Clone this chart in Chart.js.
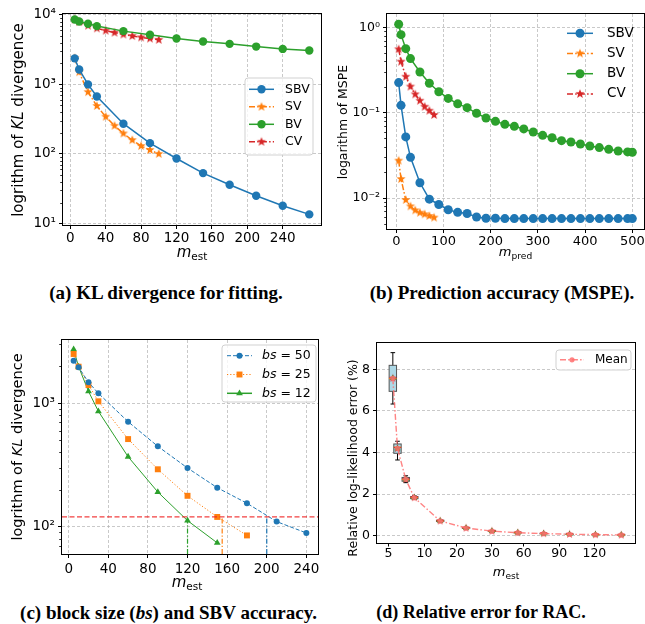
<!DOCTYPE html>
<html><head><meta charset="utf-8">
<script src="https://cdn.jsdelivr.net/npm/chart.js@4.4.0/dist/chart.umd.min.js"></script>
<style>
html,body{margin:0;padding:0;background:#fff;width:645px;height:624px;overflow:hidden;position:relative;}
canvas{position:absolute;}
.lab{position:absolute;white-space:nowrap;color:#000;font-family:"DejaVu Sans";line-height:1;}
.rot{transform:translate(-50%,-50%) rotate(-90deg);}
.hc{transform:translate(-50%,-50%);}
.sub{font-size:0.7em;vertical-align:-0.3em;font-style:normal;}
.cap{position:absolute;font-family:"Liberation Serif";font-weight:bold;white-space:nowrap;transform:translate(-50%,-50%);font-size:19px;color:#000;line-height:1;}
</style></head>
<body>
<canvas id="ca" width="330" height="250" style="left:0;top:0"></canvas>
<canvas id="cb" width="315" height="250" style="left:330px;top:0"></canvas>
<canvas id="cc" width="330" height="250" style="left:0;top:330px"></canvas>
<canvas id="cd" width="315" height="250" style="left:330px;top:330px"></canvas>

<div class="lab rot" style="left:17.5px;top:119.5px;font-size:15px">logrithm of <i>KL</i> divergence</div>
<div class="lab hc" style="left:192px;top:253px;font-size:15px"><i>m</i><span class="sub">est</span></div>
<div class="lab rot" style="left:342.5px;top:121.5px;font-size:12.5px">logarithm of MSPE</div>
<div class="lab hc" style="left:515.5px;top:253px;font-size:13px"><i>m</i><span class="sub">pred</span></div>
<div class="lab rot" style="left:16.7px;top:447px;font-size:14.5px">logrithm of <i>KL</i> divergence</div>
<div class="lab hc" style="left:187px;top:583px;font-size:15px"><i>m</i><span class="sub">est</span></div>
<div class="lab rot" style="left:353px;top:458px;font-size:12.5px">Relative log-likelihood error (%)</div>
<div class="lab hc" style="left:506px;top:573px;font-size:13px"><i>m</i><span class="sub">est</span></div>

<div class="cap" style="left:166px;top:292px">(a) KL divergence for fitting.</div>
<div class="cap" style="left:502px;top:292px">(b) Prediction accuracy (MSPE).</div>
<div class="cap" style="left:168.5px;top:612px">(c) block size (<i>bs</i>) and SBV accuracy.</div>
<div class="cap" style="left:481px;top:612px;font-size:18px">(d) Relative error for RAC.</div>

<script>
// ---------------- DATA ----------------
// (a) KL divergence for fitting
const klXTicks = [0, 40, 80, 120, 160, 200, 240];
const klYTicks = [10, 100, 1000, 10000];
const klSbvX = [5, 10, 20, 30, 60, 90, 120, 150, 180, 210, 240, 270];
const klSbv  = [2370, 1640, 1000, 670, 272, 143, 86, 53, 36, 25, 18, 13.5];
const klSvX  = [5, 10, 20, 30, 40, 50, 60, 70, 80, 90, 100];
const klSv   = [2400, 1500, 775, 490, 343, 254, 197, 158, 130, 114, 100];
const klBvX  = [5, 10, 20, 30, 60, 90, 120, 150, 180, 210, 240, 270];
const klBv   = [8600, 8050, 7460, 6900, 5840, 5170, 4570, 4140, 3830, 3500, 3240, 3070];
const klCvX  = [5, 10, 20, 30, 40, 50, 60, 70, 80, 90, 100];
const klCv   = [8600, 7890, 7000, 6400, 5930, 5550, 5230, 4960, 4740, 4570, 4380];

// (b) Prediction accuracy (MSPE)
const msXTicks = [0, 100, 200, 300, 400, 500];
const msYTicks = [0.01, 0.1, 1];
const msLongX = [5, 10, 20, 30, 50, 70, 90, 110, 130, 150, 170, 190, 210, 230, 250, 270, 290, 310, 330, 350, 370, 390, 410, 430, 450, 470, 490, 500];
const msSbv = [0.225, 0.122, 0.052, 0.030, 0.0151, 0.0097, 0.0084, 0.0073, 0.0068, 0.0066, 0.0060, 0.0058, 0.0058, 0.00575, 0.00575, 0.00575, 0.00575, 0.00575, 0.00575, 0.00575, 0.00575, 0.00575, 0.00575, 0.00575, 0.00575, 0.00575, 0.00575, 0.00575];
const msBv  = [1.087, 0.82, 0.562, 0.43, 0.30, 0.221, 0.176, 0.147, 0.127, 0.1146, 0.0984, 0.0867, 0.0792, 0.073, 0.0692, 0.0645, 0.0594, 0.0543, 0.0509, 0.047, 0.0454, 0.043, 0.0407, 0.039, 0.0372, 0.0356, 0.0347, 0.0344];
const msShortX = [5, 10, 20, 30, 40, 50, 60, 70, 80];
const msSv  = [0.0274, 0.0167, 0.0095, 0.0080, 0.00718, 0.00673, 0.00645, 0.00617, 0.0059];
const msCv  = [0.553, 0.396, 0.264, 0.202, 0.164, 0.138, 0.1175, 0.1055, 0.094];

// (c) block size and SBV accuracy
const bsXTicks = [0, 40, 80, 120, 160, 200, 240];
const bsYTicks = [100, 1000];
const bs50X = [5, 10, 20, 30, 60, 90, 120, 150, 180, 210, 240];
const bs50  = [2215, 1958, 1480, 1205, 709, 448, 299, 207, 155, 110, 89];
const bs25X = [5, 10, 20, 30, 60, 90, 120, 150, 180];
const bs25  = [2510, 1980, 1406, 1038, 513, 292, 178, 120, 85];
const bs12X = [5, 10, 20, 30, 60, 90, 120, 150];
const bs12  = [2740, 1980, 1250, 861, 369, 191, 112, 74];
const bsThreshold = 120;
const bsCross = [120, 155, 200];   // green, orange, blue

// (d) Relative error for RAC (box plots)
const racPos      = [3.17, 3.35, 3.67, 4, 5, 6, 7, 8, 9, 10, 11, 12];
const racTickPos  = [3, 4.39, 5.65, 7, 8.23, 9.6, 10.96];
const racTickLbl  = ['5', '10', '20', '30', '60', '90', '120'];
const racYTicks   = [0, 2, 4, 6, 8];
const racMean  = [7.57, 4.20, 2.71, 1.83, 0.71, 0.37, 0.22, 0.145, 0.10, 0.07, 0.05, 0.035];
const racMed   = [7.55, 4.25, 2.70, 1.83, 0.71, 0.37, 0.22, 0.145, 0.10, 0.07, 0.05, 0.035];
const racQ1    = [6.94, 3.96, 2.62, 1.78, 0.68, 0.35, 0.20, 0.13, 0.09, 0.06, 0.04, 0.03];
const racQ3    = [8.19, 4.41, 2.80, 1.88, 0.74, 0.39, 0.24, 0.16, 0.11, 0.08, 0.06, 0.04];
const racLo    = [6.33, 3.64, 2.55, 1.74, 0.65, 0.33, 0.19, 0.12, 0.08, 0.05, 0.03, 0.02];
const racHi    = [8.80, 4.54, 2.88, 1.92, 0.76, 0.41, 0.25, 0.17, 0.12, 0.09, 0.07, 0.05];

// ---------------- HELPERS ----------------
const C = {blue:'#1f77b4', orange:'#ff7f0e', green:'#2ca02c', red:'#d62728'};
const FONT = 'DejaVu Sans';
const gridCol = 'rgba(175,175,175,0.85)';
const SUP = {'-':'\u207B','0':'\u2070','1':'\u00B9','2':'\u00B2','3':'\u00B3','4':'\u2074','5':'\u2075','6':'\u2076','7':'\u2077','8':'\u2078','9':'\u2079'};
function pow10(v){ const e = Math.round(Math.log10(v)); return '10' + String(e).split('').map(c=>SUP[c]).join(''); }
const DASHDOT = [6, 2.2, 1.5, 2.2];

function starImg(color, r){
  const s = Math.ceil(2*r + 2);
  const c = document.createElement('canvas'); c.width = s; c.height = s;
  const g = c.getContext('2d');
  g.beginPath();
  for (let i = 0; i < 10; i++){
    const rr = (i % 2 === 0) ? r : r*0.42;
    const a = -Math.PI/2 + i*Math.PI/5;
    const px = s/2 + rr*Math.cos(a), py = s/2 + rr*Math.sin(a);
    if (i) g.lineTo(px, py); else g.moveTo(px, py);
  }
  g.closePath(); g.fillStyle = color; g.fill();
  return c;
}

function axis(o){
  return {
    type: o.type || 'linear', min: o.min, max: o.max, bounds: 'data',
    afterBuildTicks: s => { s.ticks = o.ticks.map(v => ({value: v})); },
    afterFit: s => {
      if (o.axis === 'y') s.width = o.size; else s.height = o.size;
      s.paddingLeft = 0; s.paddingRight = 0; s.paddingTop = 0; s.paddingBottom = 0;
    },
    ticks: { autoSkip: false, maxRotation: 0, minRotation: 0, padding: (o.pad !== undefined ? o.pad : 3), color: '#000',
             font: {family: FONT, size: o.fs}, callback: o.fmt || (v => String(v)) },
    grid: { display: true, drawOnChartArea: o.grid !== false, color: gridCol, lineWidth: 0.8,
            tickColor: '#000', tickWidth: 1, tickLength: (o.tl || 4) },
    border: { display: false, dash: [3, 2] }
  };
}

function pts(xs, ys){ return xs.map((x, i) => ({x: x, y: ys[i]})); }

function ds(label, xs, ys, color, style){
  return Object.assign({
    label: label, data: pts(xs, ys), borderColor: color, backgroundColor: color,
    pointBackgroundColor: color, pointBorderColor: color, pointBorderWidth: 0,
    borderWidth: 1.5, tension: 0, fill: false, pointStyle: 'circle', pointRadius: 4
  }, style || {});
}

const framePlugin = { id: 'frame', afterDatasetsDraw(chart){
  const {ctx, chartArea: a} = chart;
  ctx.save(); ctx.strokeStyle = '#000'; ctx.lineWidth = 1; ctx.setLineDash([]);
  ctx.strokeRect(Math.round(a.left) - 0.5, Math.round(a.top) - 0.5, Math.round(a.right - a.left) + 1, Math.round(a.bottom - a.top) + 1);
  ctx.restore();
}};

const minorLog = { id: 'minorLog', afterDraw(chart){
  const s = chart.scales.y; if (s.type !== 'logarithmic') return;
  const {ctx, chartArea: a} = chart;
  ctx.save(); ctx.strokeStyle = '#000'; ctx.lineWidth = 0.8;
  for (let e = Math.floor(Math.log10(s.min)); e <= Math.ceil(Math.log10(s.max)); e++){
    for (let k = 2; k <= 9; k++){
      const v = k * Math.pow(10, e);
      if (v < s.min || v > s.max) continue;
      const y = Math.round(s.getPixelForValue(v)) + 0.5;
      ctx.beginPath(); ctx.moveTo(a.left - 0.5, y); ctx.lineTo(a.left - 2.8, y); ctx.stroke();
    }
  }
  ctx.restore();
}};

function legendPlugin(cfg){
  return { id: 'customLegend', afterDraw(chart){
    const ctx = chart.ctx; const ox = cfg.offX, oy = cfg.offY;
    ctx.save();
    if (cfg.frame){
      const x = cfg.box[0]-ox, y = cfg.box[1]-oy, w = cfg.box[2], h = cfg.box[3], r = 3;
      ctx.beginPath();
      ctx.moveTo(x + r, y); ctx.lineTo(x + w - r, y); ctx.arcTo(x + w, y, x + w, y + r, r);
      ctx.lineTo(x + w, y + h - r); ctx.arcTo(x + w, y + h, x + w - r, y + h, r);
      ctx.lineTo(x + r, y + h); ctx.arcTo(x, y + h, x, y + h - r, r);
      ctx.lineTo(x, y + r); ctx.arcTo(x, y, x + r, y, r); ctx.closePath();
      ctx.fillStyle = 'rgba(255,255,255,0.8)'; ctx.fill();
      ctx.strokeStyle = 'rgba(204,204,204,0.9)'; ctx.lineWidth = 1; ctx.stroke();
    }
    cfg.items.forEach((it, i) => {
      const y = cfg.y0 + i*cfg.rowH - oy;
      const x1 = cfg.line[0]-ox, x2 = cfg.line[1]-ox;
      ctx.strokeStyle = it.color; ctx.lineWidth = it.lw || 1.5; ctx.setLineDash(it.dash || []);
      ctx.beginPath(); ctx.moveTo(x1, y); ctx.lineTo(x2, y); ctx.stroke(); ctx.setLineDash([]);
      ctx.fillStyle = it.color; ctx.strokeStyle = it.color;
      Chart.helpers.drawPoint(ctx, {pointStyle: it.ps, radius: it.r, rotation: 0, borderWidth: 0}, (x1 + x2)/2, y);
      ctx.fillStyle = '#000'; ctx.textBaseline = 'middle'; ctx.textAlign = 'left';
      let tx = cfg.textX - ox;
      if (it.ital){
        ctx.font = 'italic ' + cfg.fs + 'px "' + FONT + '"';
        ctx.fillText(it.ital, tx, y); tx += ctx.measureText(it.ital).width;
      }
      ctx.font = cfg.fs + 'px "' + FONT + '"';
      ctx.fillText(it.label, tx, y);
    });
    ctx.restore();
  }};
}

const base = (pad) => ({
  responsive: false, animation: false, devicePixelRatio: 1,
  layout: {padding: pad, autoPadding: false},
  plugins: {legend: {display: false}, tooltip: {enabled: false}},
  events: []
});

// ---------------- (a) ----------------
const starOa = starImg(C.orange, 4.8), starRa = starImg(C.red, 4.8);
new Chart(document.getElementById('ca'), {
  type: 'line',
  data: { datasets: [
    ds('SBV', klSbvX, klSbv, C.blue, {pointRadius: 4.2}),
    ds('SV', klSvX, klSv, C.orange, {pointStyle: starOa, borderDash: DASHDOT}),
    ds('BV', klBvX, klBv, C.green, {pointRadius: 4.2}),
    ds('CV', klCvX, klCv, C.red, {pointStyle: starRa, borderDash: DASHDOT})
  ]},
  options: Object.assign(base({left: 0, top: 14, right: 9, bottom: 0}), {
    scales: {
      x: axis({axis: 'x', min: -8.25, max: 283.25, ticks: klXTicks, size: 25, fs: 13.5, pad: 1}),
      y: axis({axis: 'y', type: 'logarithmic', min: 9.5, max: 10300, ticks: klYTicks, size: 63, fs: 13.5, fmt: pow10})
    }
  }),
  plugins: [minorLog, framePlugin, legendPlugin({offX: 0, offY: 0, frame: true, box: [245, 78, 68, 77],
    y0: 89.3, rowH: 17.5, line: [249, 274], textX: 285, fs: 12.5,
    items: [
      {label: 'SBV', color: C.blue, ps: 'circle', r: 4.2},
      {label: 'SV', color: C.orange, ps: starOa, r: 4.5, dash: DASHDOT},
      {label: 'BV', color: C.green, ps: 'circle', r: 4.2},
      {label: 'CV', color: C.red, ps: starRa, r: 4.5, dash: DASHDOT}
    ]})]
});

// ---------------- (b) ----------------
const starOb = starImg(C.orange, 4.8), starRb = starImg(C.red, 4.8);
new Chart(document.getElementById('cb'), {
  type: 'line',
  data: { datasets: [
    ds('SBV', msLongX, msSbv, C.blue, {pointRadius: 4.5}),
    ds('SV', msShortX, msSv, C.orange, {pointStyle: starOb, borderDash: DASHDOT}),
    ds('BV', msLongX, msBv, C.green, {pointRadius: 4.5}),
    ds('CV', msShortX, msCv, C.red, {pointStyle: starRb, borderDash: DASHDOT})
  ]},
  options: Object.assign(base({left: 0, top: 14, right: 1, bottom: 0}), {
    scales: {
      x: axis({axis: 'x', min: -19.75, max: 524.75, ticks: msXTicks, size: 21, fs: 13, pad: 1}),
      y: axis({axis: 'y', type: 'logarithmic', min: 0.00434, max: 1.432, ticks: msYTicks, size: 57, fs: 12.5, fmt: pow10})
    }
  }),
  plugins: [minorLog, framePlugin, legendPlugin({offX: 330, offY: 0, frame: false,
    y0: 33.3, rowH: 20.2, line: [567, 593], textX: 607, fs: 13.5,
    items: [
      {label: 'SBV', color: C.blue, ps: 'circle', r: 4.5},
      {label: 'SV', color: C.orange, ps: starOb, r: 4.5, dash: DASHDOT},
      {label: 'BV', color: C.green, ps: 'circle', r: 4.5},
      {label: 'CV', color: C.red, ps: starRb, r: 4.5, dash: DASHDOT}
    ]})]
});

// ---------------- (c) ----------------
const refLines = { id: 'refLines', beforeDatasetsDraw(chart){
  const {ctx, chartArea: a, scales: {x, y}} = chart;
  const yp = y.getPixelForValue(bsThreshold);
  const cols = [C.green, C.orange, C.blue];
  ctx.save(); ctx.lineWidth = 1.2; ctx.setLineDash([5, 2, 1.2, 2]);
  bsCross.forEach((xv, i) => {
    const xp = x.getPixelForValue(xv);
    ctx.strokeStyle = cols[i]; ctx.beginPath(); ctx.moveTo(xp, a.bottom); ctx.lineTo(xp, yp); ctx.stroke();
  });
  ctx.restore();
}, afterDatasetsDraw(chart){
  const {ctx, chartArea: a, scales: {y}} = chart;
  const yp = y.getPixelForValue(bsThreshold);
  ctx.save(); ctx.lineWidth = 1.3; ctx.setLineDash([5, 2.5]); ctx.strokeStyle = 'rgba(240,30,30,0.85)';
  ctx.beginPath(); ctx.moveTo(a.left, yp); ctx.lineTo(a.right, yp); ctx.stroke();
  ctx.restore();
}};
new Chart(document.getElementById('cc'), {
  type: 'line',
  data: { datasets: [
    ds('bs50', bs50X, bs50, C.blue, {pointRadius: 3, borderWidth: 1, borderDash: [4, 2]}),
    ds('bs25', bs25X, bs25, C.orange, {pointStyle: 'rect', pointRadius: 4.2, borderWidth: 1, borderDash: [1.2, 2]}),
    ds('bs12', bs12X, bs12, C.green, {pointStyle: 'triangle', pointRadius: 3.9, borderWidth: 1})
  ]},
  options: Object.assign(base({left: 0, top: 10, right: 12, bottom: 0}), {
    scales: {
      x: axis({axis: 'x', min: -6.75, max: 251.75, ticks: bsXTicks, size: 26, fs: 13.5}),
      y: axis({axis: 'y', type: 'logarithmic', min: 60.1, max: 3258, ticks: bsYTicks, size: 62, fs: 13.5, fmt: pow10})
    }
  }),
  plugins: [refLines, minorLog, framePlugin, legendPlugin({offX: 0, offY: 330, frame: true, box: [222, 345, 94, 57],
    y0: 355.7, rowH: 18.8, line: [227, 252], textX: 262, fs: 12.5,
    items: [
      {ital: 'bs', label: ' = 50', color: C.blue, ps: 'circle', r: 3, dash: [4, 2], lw: 1},
      {ital: 'bs', label: ' = 25', color: C.orange, ps: 'rect', r: 4.2, dash: [1.2, 2], lw: 1},
      {ital: 'bs', label: ' = 12', color: C.green, ps: 'triangle', r: 3.9, lw: 1.5}
    ]})]
});

// ---------------- (d) ----------------
const boxPlugin = { id: 'boxes', beforeDatasetsDraw(chart){
  const {ctx, scales: {x, y}} = chart;
  ctx.save(); ctx.setLineDash([]);
  racPos.forEach((p, i) => {
    const xp = x.getPixelForValue(p), hw = 3.7, cw = 2.3;
    const yq1 = y.getPixelForValue(racQ1[i]), yq3 = y.getPixelForValue(racQ3[i]);
    const ylo = y.getPixelForValue(racLo[i]), yhi = y.getPixelForValue(racHi[i]);
    ctx.strokeStyle = '#000'; ctx.lineWidth = 1;
    ctx.beginPath();
    ctx.moveTo(xp, yq3); ctx.lineTo(xp, yhi); ctx.moveTo(xp - cw, yhi); ctx.lineTo(xp + cw, yhi);
    ctx.moveTo(xp, yq1); ctx.lineTo(xp, ylo); ctx.moveTo(xp - cw, ylo); ctx.lineTo(xp + cw, ylo);
    ctx.stroke();
    ctx.fillStyle = '#add8e6'; ctx.fillRect(xp - hw, yq3, 2*hw, yq1 - yq3);
    ctx.strokeStyle = '#555'; ctx.strokeRect(xp - hw, yq3, 2*hw, yq1 - yq3);
    const ym = y.getPixelForValue(racMed[i]);
    ctx.strokeStyle = C.orange; ctx.lineWidth = 1.2;
    ctx.beginPath(); ctx.moveTo(xp - hw, ym); ctx.lineTo(xp + hw, ym); ctx.stroke();
  });
  ctx.restore();
}};
const starRd = starImg(C.red, 4.2);
const meanCol = 'rgba(255,110,110,0.85)';
new Chart(document.getElementById('cd'), {
  type: 'line',
  data: { datasets: [
    ds('Mean', racPos, racMean, meanCol, {pointRadius: 2.6, borderDash: DASHDOT, borderWidth: 1.4}),
    ds('tri', racPos, racMean, C.green, {pointStyle: 'triangle', pointRadius: 3.6, showLine: false}),
    ds('star', racPos, racMean, C.red, {pointStyle: starRd, showLine: false})
  ]},
  options: Object.assign(base({left: 0, top: 13, right: 10, bottom: 0}), {
    scales: {
      x: axis({axis: 'x', min: 2.558, max: 12.53, ticks: racTickPos, size: 37, fs: 12.5, grid: false, pad: 0, tl: 3.5,
               fmt: (v, i) => racTickLbl[i]}),
      y: axis({axis: 'y', min: -0.351, max: 9.264, ticks: racYTicks, size: 47, fs: 12.5})
    }
  }),
  plugins: [boxPlugin, framePlugin, legendPlugin({offX: 330, offY: 330, frame: true, box: [556, 350, 75, 20],
    y0: 359.8, rowH: 18, line: [560, 584], textX: 595, fs: 12,
    items: [ {label: 'Mean', color: meanCol, ps: 'circle', r: 2.6, dash: DASHDOT, lw: 1.4} ]})]
});
</script>
</body></html>
